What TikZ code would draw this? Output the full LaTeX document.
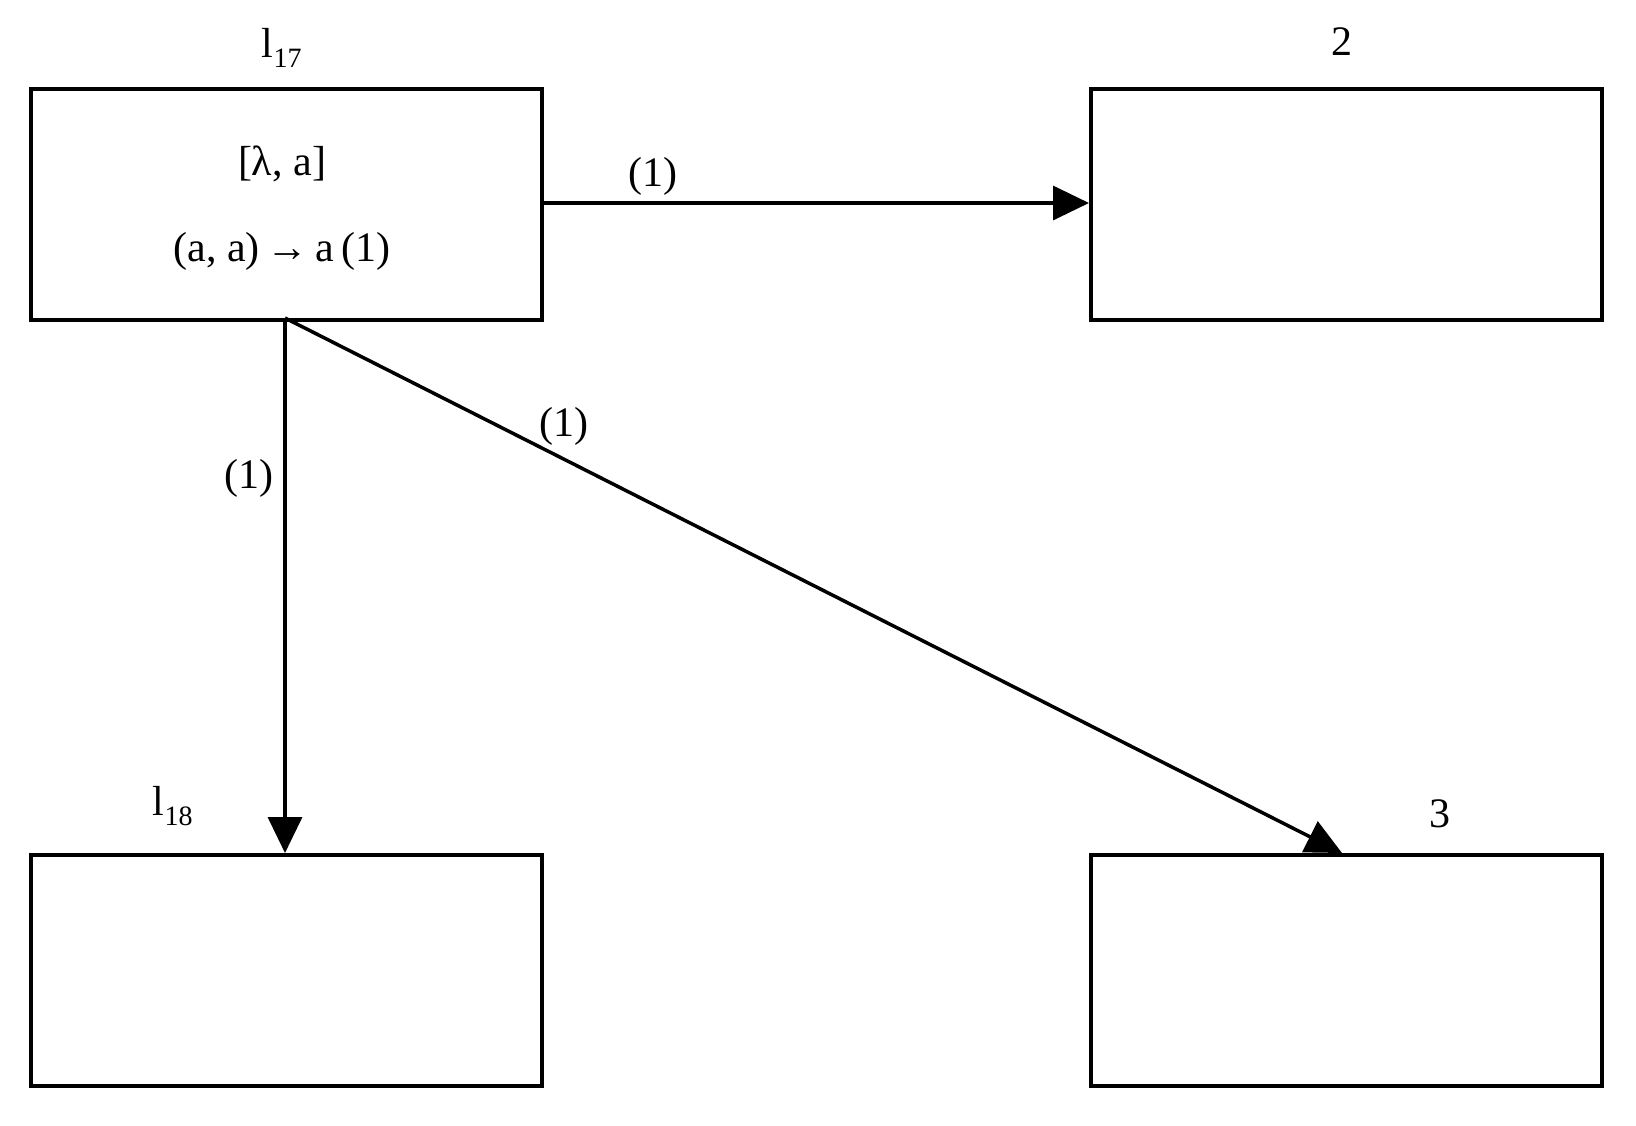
\documentclass[tikz,border=0pt]{standalone}
\usepackage{fontspec}
\setmainfont{Liberation Serif}
\usetikzlibrary{arrows.meta}
\begin{document}
\begin{tikzpicture}[x=1pt,y=-1pt,
 box/.style={draw,line width=3.5pt,minimum width=511pt,minimum height=231pt,inner sep=0,anchor=north west},
 arr/.style={line width=3.5pt,-{Triangle[length=36pt,width=34pt]}},
 lab/.style={font=\fontsize{42}{48}\selectfont}]
\useasboundingbox (0,0) rectangle (1636,1125);
\node[box] (b1) at (29,87) {};
\node[box] (b2) at (1089,87) {};
\node[box] (b18) at (29,853) {};
\node[box] (b3) at (1089,853) {};
\node[lab] (t1) at (282,164) {[λ, a]};
\node[lab] (t2) at (282,251) {(a, a)\,→\,a\,(1)};
\node[lab] (n17) at (282,48) {l\textsubscript{\fontsize{28}{32}\selectfont 17}};
\node[lab] (n2) at (1342,42) {2};
\node[lab] (n3) at (1440,814) {3};
\node[lab] (n18) at (173,806) {l\textsubscript{\fontsize{28}{32}\selectfont 18}};
\coordinate (s) at (285,318);
\coordinate (e3) at (1342,853);
\draw[arr] (b1.east |- 0,203) -- (b2.west |- 0,203) node[lab,pos=0.2,above=2pt] (l1) {(1)};
\draw[arr] (s) -- (s |- b18.north) node[lab,pos=0.3,left=6pt] (l2) {(1)};
\draw[arr] (s) -- (e3) node[lab,pos=0.24,above right=-4pt] (l3) {(1)};
\end{tikzpicture}
\end{document}
